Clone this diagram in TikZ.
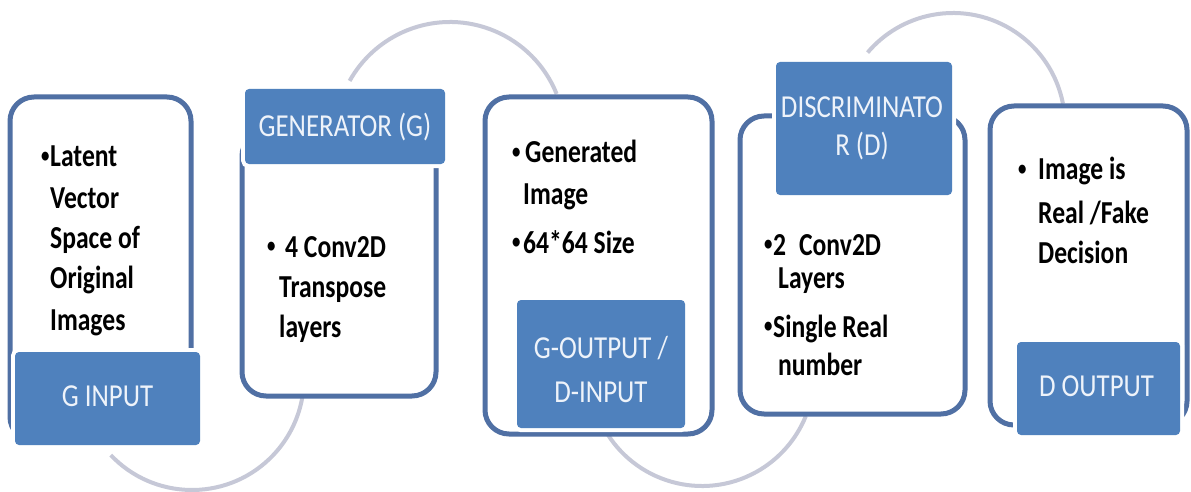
\documentclass[tikz,border=0pt]{standalone}
\usepackage{fontspec}
\setmainfont{Carlito}
\newfontfamily\calfnt[FakeStretch=0.80]{Carlito}
\newfontfamily\headfnt[FakeStretch=0.84]{Carlito}
\definecolor{framec}{RGB}{80,112,164}
\definecolor{headc}{RGB}{79,129,189}
\definecolor{ringc}{RGB}{198,200,215}
\definecolor{headtxt}{RGB}{238,243,250}
\newcommand\bul[1]{\makebox[#1][l]{\raisebox{4.5pt}{\fontsize{21pt}{21pt}\selectfont •}}}
\begin{document}
\begin{tikzpicture}[x=1pt,y=1pt,
  ring/.style={draw=ringc, line width=4pt},
  frame/.style={draw=framec, line width=5pt, fill=white, rounded corners=24pt, inner sep=0pt},
  head/.style={fill=headc, rounded corners=4pt, inner sep=0pt, preaction={draw=white, line width=8pt}},
  htxt/.style={text=headtxt, font=\headfnt\fontsize{32pt}{44pt}\selectfont, align=center, inner sep=0pt},
  btxt/.style={anchor=base west, inner sep=0pt, text=black, font=\calfnt\bfseries\fontsize{32pt}{40pt}\selectfont}]
\fill[white] (0,0) rectangle (1191,491);
\useasboundingbox (0,0) rectangle (1191,491);
% rings
\draw[ring] (192,113) ++(223.5:112pt) arc[start angle=223.5, end angle=352, radius=112pt];
\draw[ring] (450,354) ++(22:115pt) arc[start angle=22, end angle=150.8, radius=115pt];
\draw[ring] (702,117) ++(209:112pt) arc[start angle=209, end angle=338, radius=112pt];
\draw[ring] (953,366) ++(11:112pt) arc[start angle=11, end angle=139.7, radius=112pt];
% frames
\node[frame, minimum width=181pt, minimum height=344pt] (f1) at (100.5,222) {};
\node[frame, minimum width=194pt, minimum height=264pt] (f2) at (339,227) {};
\node[frame, minimum width=227pt, minimum height=337pt] (f3) at (598.5,225.5) {};
\node[frame, minimum width=225pt, minimum height=298pt] (f4) at (852.5,226) {};
\node[frame, minimum width=197pt, minimum height=319pt] (f5) at (1088.5,225.5) {};
% headers
\node[head, minimum width=185pt, minimum height=93pt] (h1) at (107.5,92.5) {};
\node[head, minimum width=200pt, minimum height=75pt] (h2) at (345,364.5) {};
\node[head, minimum width=168pt, minimum height=128pt] (h3) at (601,127) {};
\node[head, minimum width=176pt, minimum height=133pt] (h4) at (864,362.5) {};
\node[head, minimum width=163pt, minimum height=93pt] (h5) at (1098.5,102.5) {};
\node[htxt] (ht1) at ([yshift=2pt]h1.center) {G INPUT};
\node[htxt] (ht2) at ([yshift=-1pt]h2.center) {GENERATOR (G)};
\node[htxt] (ht3) at ([yshift=-5.5pt]h3.center) {G-OUTPUT /\\D-INPUT};
\node[htxt, font=\headfnt\fontsize{32pt}{38pt}\selectfont] (ht4) at ([xshift=-2pt]h4.center) {DISCRIMINATO\\R (D)};
\node[htxt] (ht5) at ([xshift=-2pt,yshift=2pt]h5.center) {D OUTPUT};
% body texts
\node[btxt] (a1) at (41,324) {\bul{9pt}Latent};
\node[btxt] (a2) at (50,283) {Vector};
\node[btxt] (a3) at (50,243) {Space of};
\node[btxt] (a4) at (50,203) {Original};
\node[btxt] (a5) at (50,161) {Images};
\node[btxt] (b1) at (267,234) {\bul{18pt}4 Conv2D};
\node[btxt] (b2) at (279,194) {Transpose};
\node[btxt] (b3) at (279,154) {layers};
\node[btxt] (c1) at (512,328) {\bul{13pt}Generated};
\node[btxt] (c2) at (523,287) {Image};
\node[btxt] (c3) at (512,238) {\bul{11pt}64*64 Size};
\node[btxt] (d1) at (764,236) {\bul{9pt}2\hspace{13pt}Conv2D};
\node[btxt] (d2) at (778,203) {Layers};
\node[btxt] (d3) at (764,154) {\bul{9pt}Single Real};
\node[btxt] (d4) at (778,116) {number};
\node[btxt] (e1) at (1018,311) {\bul{20pt}Image is};
\node[btxt] (e2) at (1038,268) {Real /Fake};
\node[btxt] (e3) at (1038,228) {Decision};
\end{tikzpicture}
\end{document}
